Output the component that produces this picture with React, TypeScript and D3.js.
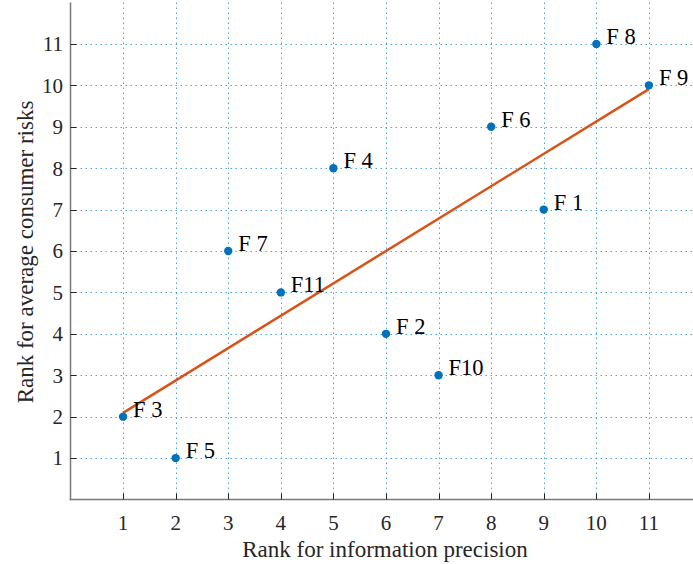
import { useEffect, useRef } from "react";
import * as d3 from "d3";

const W = 693;
const H = 564;

// factor labels and their ranks
const labels = ["F 1", "F 2", "F 3", "F 4", "F 5", "F 6", "F 7", "F 8", "F 9", "F10", "F11"];
const precisionRank = [9, 6, 1, 5, 2, 8, 3, 10, 11, 7, 4];
const riskRank = [7, 4, 2, 8, 1, 9, 6, 11, 10, 3, 5];

// fitted line
const fitX = [1, 11];
const fitY = [2.09, 9.91];

const ticks = [1, 2, 3, 4, 5, 6, 7, 8, 9, 10, 11];

const FONT = "'Liberation Serif', 'Times New Roman', serif";

export default function App() {
  const svgRef = useRef<SVGSVGElement>(null);

  useEffect(() => {
    const svg = d3.select(svgRef.current);
    svg.selectAll("*").remove();

    const x = d3.scaleLinear().domain([0, 12]).range([70.5, 701.5]);
    const y = d3.scaleLinear().domain([0, 12]).range([499.5, 2.5]);

    const grid = svg.append("g")
      .attr("stroke", "#3d9ad8")
      .attr("stroke-width", 1)
      .attr("stroke-dasharray", "1.5,3.5")
      .attr("opacity", 0.9);

    grid.selectAll("line.v")
      .data(ticks)
      .join("line")
      .attr("class", "v")
      .attr("x1", (d) => Math.round(x(d)) + 0.5)
      .attr("x2", (d) => Math.round(x(d)) + 0.5)
      .attr("y1", y(12))
      .attr("y2", y(0));

    grid.selectAll("line.h")
      .data(ticks)
      .join("line")
      .attr("class", "h")
      .attr("y1", (d) => Math.round(y(d)) + 0.5)
      .attr("y2", (d) => Math.round(y(d)) + 0.5)
      .attr("x1", x(0))
      .attr("x2", W);

    // axes
    const axisColor = "#7a7a7a";
    svg.append("line")
      .attr("x1", x(0)).attr("x2", x(0))
      .attr("y1", y(12)).attr("y2", y(0) + 0.75)
      .attr("stroke", axisColor).attr("stroke-width", 1.5);
    svg.append("line")
      .attr("x1", x(0) - 0.75).attr("x2", W)
      .attr("y1", y(0)).attr("y2", y(0))
      .attr("stroke", axisColor).attr("stroke-width", 1.5);

    // inward ticks
    svg.append("g")
      .selectAll("line")
      .data(ticks)
      .join("line")
      .attr("x1", (d) => Math.round(x(d)) + 0.5)
      .attr("x2", (d) => Math.round(x(d)) + 0.5)
      .attr("y1", y(0))
      .attr("y2", y(0) - 6)
      .attr("stroke", "#262626");
    svg.append("g")
      .selectAll("line")
      .data(ticks)
      .join("line")
      .attr("y1", (d) => Math.round(y(d)) + 0.5)
      .attr("y2", (d) => Math.round(y(d)) + 0.5)
      .attr("x1", x(0))
      .attr("x2", x(0) + 6)
      .attr("stroke", "#262626");

    // tick labels
    svg.append("g")
      .attr("font-family", FONT)
      .attr("font-size", 21)
      .attr("fill", "#262626")
      .attr("text-anchor", "middle")
      .selectAll("text")
      .data(ticks)
      .join("text")
      .attr("x", (d) => x(d))
      .attr("y", y(0) + 30)
      .text((d) => d);
    svg.append("g")
      .attr("font-family", FONT)
      .attr("font-size", 21)
      .attr("fill", "#262626")
      .attr("text-anchor", "end")
      .selectAll("text")
      .data(ticks)
      .join("text")
      .attr("x", x(0) - 7.5)
      .attr("y", (d) => y(d))
      .attr("dy", "0.35em")
      .text((d) => d);

    // axis titles
    svg.append("text")
      .attr("x", 385)
      .attr("y", 557)
      .attr("text-anchor", "middle")
      .attr("font-family", FONT)
      .attr("font-size", 23)
      .attr("fill", "#262626")
      .text("Rank for information precision");
    svg.append("text")
      .attr("transform", `translate(33,252) rotate(-90)`)
      .attr("text-anchor", "middle")
      .attr("font-family", FONT)
      .attr("font-size", 23)
      .attr("fill", "#262626")
      .text("Rank for average consumer risks");

    // fit line
    const line = d3.line<number>()
      .x((d, i) => x(fitX[i]))
      .y((d) => y(d));
    svg.append("path")
      .datum(fitY)
      .attr("d", line)
      .attr("fill", "none")
      .attr("stroke", "#D95319")
      .attr("stroke-width", 2.5);

    // points
    svg.append("g")
      .selectAll("circle")
      .data(labels)
      .join("circle")
      .attr("cx", (d, i) => x(precisionRank[i]))
      .attr("cy", (d, i) => y(riskRank[i]))
      .attr("r", 4.2)
      .attr("fill", "#0072BD");

    svg.append("g")
      .attr("font-family", FONT)
      .attr("font-size", 22.5)
      .attr("fill", "#000")
      .selectAll("text")
      .data(labels)
      .join("text")
      .attr("x", (d, i) => x(precisionRank[i]) + 10)
      .attr("y", (d, i) => y(riskRank[i]))
      .text((d) => d);
  }, []);

  return (
    <svg
      ref={svgRef}
      width={W}
      height={H}
      style={{ position: "absolute", left: 0, top: 0, display: "block" }}
    />
  );
}
